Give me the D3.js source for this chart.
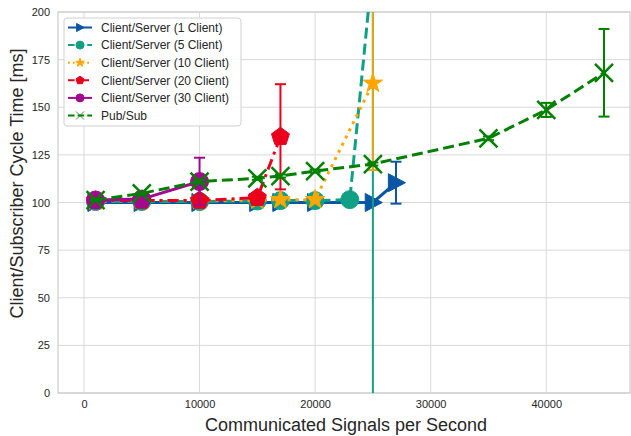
<!DOCTYPE html>
<html>
<head>
<meta charset="utf-8">
<script src="https://cdn.jsdelivr.net/npm/d3@7"></script>
<style>
  body { margin: 0; background: #fff; }
  svg text { font-family: "Liberation Sans", Arial, sans-serif; }
</style>
</head>
<body>
<svg id="chart" width="631" height="436"></svg>
<script>
// --- data ---
const xTicks = [0, 10000, 20000, 30000, 40000];
const yTicks = [0, 25, 50, 75, 100, 125, 150, 175, 200];

const c1X = [1000, 5000, 10000, 15000, 17000, 20000, 25000, 27000];
const c1Y = [100, 100, 100, 100, 100, 100, 100, 110.4];
const c1E = [0.4, 0.4, 0.4, 0.4, 0.4, 0.4, 0.4, 11];

const c5X = [1000, 5000, 10000, 15000, 17000, 20000, 23000, 25000];
const c5Y = [100.5, 100.5, 100.5, 100.8, 101, 101, 101.5, 225];
const c5E = [0.4, 0.4, 0.4, 0.4, 0.4, 0.4, 0.6, 245];

const c10X = [1000, 5000, 10000, 15000, 17000, 20000, 25000];
const c10Y = [100.8, 101, 101, 101.2, 101.5, 101.5, 162.6];
const c10E = [0.4, 0.4, 0.4, 0.4, 0.4, 0.5, 45.6];

const c20X = [1000, 5000, 10000, 15000, 17000];
const c20Y = [101, 101, 101, 102.5, 134.5];
const c20E = [0.4, 0.4, 0.4, 0.6, 27.6];

const c30X = [1000, 5000, 10000];
const c30Y = [101.3, 101.8, 111];
const c30E = [0.4, 0.5, 12.5];

const psX = [1000, 5000, 10000, 15000, 17000, 20000, 25000, 35000, 40000, 45000];
const psY = [101.3, 104.8, 111, 112.7, 113.9, 116.5, 120.2, 133.7, 148.6, 168.1];
const psE = [0.5, 0.5, 0.8, 0.8, 0.8, 0.8, 0.8, 1, 3.7, 23];

const series = [
  { name: "Client/Server (1 Client)", x: c1X, y: c1Y, e: c1E, color: "#0b56a4", dash: null, marker: "triR" },
  { name: "Client/Server (5 Client)", x: c5X, y: c5Y, e: c5E, color: "#12a084", dash: "11,5", marker: "circle" },
  { name: "Client/Server (10 Client)", x: c10X, y: c10Y, e: c10E, color: "#ffa500", errColor: "#e4a714", dash: "3,5", marker: "star" },
  { name: "Client/Server (20 Client)", x: c20X, y: c20Y, e: c20E, color: "#e8001c", dash: "11,5,3,5", marker: "pentagon" },
  { name: "Client/Server (30 Client)", x: c30X, y: c30Y, e: c30E, color: "#a3088e", dash: null, marker: "circle" },
  { name: "Pub/Sub", x: psX, y: psY, e: psE, color: "#008000", dash: "11,5", marker: "x" }
];

const svg = d3.select("#chart");
const pLeft = 58, pRight = 630, pTop = 12, pBottom = 393;

const x = d3.scaleLinear().domain([-2250, 47250]).range([pLeft, pRight]);
const y = d3.scaleLinear().domain([0, 200]).range([pBottom, pTop]);

// grid
const grid = svg.append("g");
grid.selectAll(".gx").data(xTicks).join("line")
  .attr("x1", d => x(d)).attr("x2", d => x(d))
  .attr("y1", pTop).attr("y2", pBottom)
  .attr("stroke", "#d9d9d9").attr("stroke-width", 1);
grid.selectAll(".gy").data(yTicks).join("line")
  .attr("x1", pLeft).attr("x2", pRight)
  .attr("y1", d => y(d)).attr("y2", d => y(d))
  .attr("stroke", "#d9d9d9").attr("stroke-width", 1);

svg.append("rect")
  .attr("x", pLeft).attr("y", pTop)
  .attr("width", pRight - pLeft).attr("height", pBottom - pTop)
  .attr("fill", "none").attr("stroke", "#cccccc").attr("stroke-width", 1.2);

// axes (tick labels only, seaborn whitegrid style)
const xAxis = svg.append("g").attr("transform", `translate(0,${pBottom})`)
  .call(d3.axisBottom(x).tickValues(xTicks).tickSize(0).tickPadding(7).tickFormat(d3.format("d")));
const yAxis = svg.append("g").attr("transform", `translate(${pLeft},0)`)
  .call(d3.axisLeft(y).tickValues(yTicks).tickSize(0).tickPadding(8));
[xAxis, yAxis].forEach(a => {
  a.select(".domain").remove();
  a.selectAll("text").attr("fill", "#262626").style("font-size", "11px")
    .style("font-family", "'Liberation Sans', Arial, sans-serif");
});

svg.append("text")
  .attr("x", 346).attr("y", 431)
  .attr("text-anchor", "middle").attr("fill", "#262626")
  .style("font-size", "18px")
  .text("Communicated Signals per Second");

svg.append("text")
  .attr("transform", `translate(23,${(pTop + pBottom) / 2 - 19}) rotate(-90)`)
  .attr("text-anchor", "middle").attr("fill", "#262626")
  .style("font-size", "18px")
  .text("Client/Subscriber Cycle Time [ms]");

// marker paths
function markerPath(type, s) {
  const r = s / 2;
  if (type === "circle") return d3.symbol(d3.symbolCircle, Math.PI * r * r)();
  if (type === "star") return d3.symbol(d3.symbolStar, s * s * 0.36)();
  if (type === "triR") return `M${-r * 0.85},${-r}L${r * 1.05},0L${-r * 0.85},${r}Z`;
  if (type === "pentagon") {
    const pts = d3.range(5).map(i => {
      const a = -Math.PI / 2 + i * 2 * Math.PI / 5;
      return [Math.cos(a) * r * 1.05, Math.sin(a) * r * 1.05];
    });
    return "M" + pts.map(p => p.join(",")).join("L") + "Z";
  }
  if (type === "x") return `M${-r},${-r}L${r},${r}M${-r},${r}L${r},${-r}`;
  return "";
}

svg.append("defs").append("clipPath").attr("id", "plot-clip")
  .append("rect").attr("x", pLeft).attr("y", pTop)
  .attr("width", pRight - pLeft).attr("height", pBottom - pTop);

const plot = svg.append("g").attr("clip-path", "url(#plot-clip)");
const line = d3.line().x(d => x(d[0])).y(d => y(d[1]));

series.forEach(s => {
  const pts = s.x.map((v, i) => [v, s.y[i], s.e[i]]);
  const g = plot.append("g");
  const ec = s.errColor || s.color;
  // error bars
  pts.forEach(p => {
    g.append("line")
      .attr("x1", x(p[0])).attr("x2", x(p[0]))
      .attr("y1", y(p[1] - p[2])).attr("y2", y(p[1] + p[2]))
      .attr("stroke", ec).attr("stroke-width", 2);
    [p[1] - p[2], p[1] + p[2]].forEach(v => {
      g.append("line")
        .attr("x1", x(p[0]) - 5.5).attr("x2", x(p[0]) + 5.5)
        .attr("y1", y(v)).attr("y2", y(v))
        .attr("stroke", ec).attr("stroke-width", 2);
    });
  });
  g.append("path").datum(pts)
    .attr("d", line)
    .attr("fill", "none").attr("stroke", s.color)
    .attr("stroke-width", 3)
    .attr("stroke-dasharray", s.dash);
  g.selectAll(".m").data(pts).join("path")
    .attr("transform", d => `translate(${x(d[0])},${y(d[1])})`)
    .attr("d", markerPath(s.marker, 18))
    .attr("fill", s.marker === "x" ? "none" : s.color)
    .attr("stroke", s.color)
    .attr("stroke-width", s.marker === "x" ? 2.5 : 1);
});

// legend
const lg = svg.append("g");
lg.append("rect")
  .attr("x", 64).attr("y", 18).attr("width", 177).attr("height", 108)
  .attr("rx", 3).attr("fill", "#fff").attr("fill-opacity", 0.85)
  .attr("stroke", "#d0d0d0").attr("stroke-width", 1);
series.forEach((s, i) => {
  const cy = 27.5 + i * 17.6;
  lg.append("line")
    .attr("x1", 68).attr("x2", 92).attr("y1", cy).attr("y2", cy)
    .attr("stroke", s.color).attr("stroke-width", 2)
    .attr("stroke-dasharray", s.dash ? s.dash.split(",").map(v => v * 0.6).join(",") : null);
  lg.append("path")
    .attr("transform", `translate(80,${cy})`)
    .attr("d", markerPath(s.marker, 8))
    .attr("fill", s.marker === "x" ? "none" : s.color)
    .attr("stroke", s.color).attr("stroke-width", s.marker === "x" ? 0.8 : 1);
  lg.append("text")
    .attr("x", 101).attr("y", cy + 4.2)
    .attr("fill", "#262626").style("font-size", "12px")
    .text(s.name);
});
</script>
</body>
</html>
